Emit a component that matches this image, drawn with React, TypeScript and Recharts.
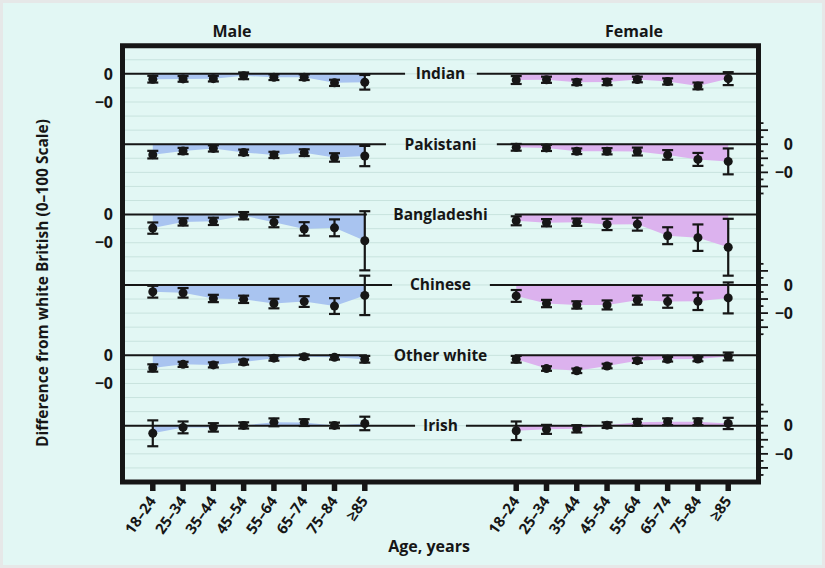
import React from 'react';
import {
  ComposedChart,
  Area,
  Line,
  ErrorBar,
  XAxis,
  YAxis,
  CartesianGrid,
  ReferenceLine,
  ReferenceArea,
  ReferenceDot,
} from 'recharts';

// ---------- categories ----------
const ageGroups = ['18–24', '25–34', '35–44', '45–54', '55–64', '65–74', '75–84', '≥85'];
const ethnicGroups = ['Indian', 'Pakistani', 'Bangladeshi', 'Chinese', 'Other white', 'Irish'];

// ---------- male values (difference from white British) and CI half-widths ----------
const indianMale = [-1.9, -1.8, -1.7, -0.7, -1.2, -1.2, -3.2, -3.0];
const indianMaleCI = [1.2, 1.0, 1.0, 1.2, 1.0, 1.0, 1.1, 2.6];
const pakistaniMale = [-3.7, -2.4, -1.5, -2.9, -3.8, -3.0, -4.7, -4.2];
const pakistaniMaleCI = [1.35, 1.1, 1.1, 1.0, 1.1, 1.2, 1.5, 3.6];
const bangladeshiMale = [-4.8, -2.6, -2.4, -0.4, -2.7, -5.1, -4.7, -9.3];
const bangladeshiMaleCI = [2.0, 1.3, 1.3, 1.3, 1.8, 2.4, 3.0, 10.5];
const chineseMale = [-2.4, -2.8, -4.8, -5.1, -6.6, -5.9, -7.5, -3.7];
const chineseMaleCI = [2.1, 1.7, 1.3, 1.3, 1.7, 1.9, 2.8, 7.0];
const otherWhiteMale = [-4.5, -3.2, -3.4, -2.4, -1.0, -0.5, -0.7, -1.4];
const otherWhiteMaleCI = [1.3, 0.9, 0.9, 0.9, 0.9, 0.8, 0.8, 1.2];
const irishMale = [-2.7, -0.6, -0.6, 0.1, 1.2, 1.1, 0.1, 0.8];
const irishMaleCI = [4.6, 2.1, 1.5, 1.1, 1.4, 1.2, 1.0, 2.4];

// ---------- female values and CI half-widths ----------
const indianFemale = [-2.2, -2.1, -3.0, -2.9, -2.0, -2.7, -4.3, -1.7];
const indianFemaleCI = [1.4, 1.1, 1.0, 1.1, 1.0, 1.1, 1.2, 2.3];
const pakistaniFemale = [-1.1, -1.3, -2.5, -2.5, -2.6, -3.8, -5.4, -6.1];
const pakistaniFemaleCI = [1.2, 1.1, 1.0, 1.1, 1.4, 1.7, 2.3, 4.6];
const bangladeshiFemale = [-2.2, -2.9, -2.7, -3.5, -3.4, -7.5, -8.2, -11.6];
const bangladeshiFemaleCI = [1.6, 1.3, 1.3, 2.0, 2.3, 3.0, 4.7, 10.1];
const chineseFemale = [-3.9, -6.6, -7.1, -7.1, -5.4, -5.9, -5.8, -4.6];
const chineseFemaleCI = [2.1, 1.3, 1.3, 1.6, 1.6, 2.2, 3.1, 5.5];
const otherWhiteFemale = [-1.4, -4.7, -5.5, -3.8, -1.9, -1.4, -1.3, -0.4];
const otherWhiteFemaleCI = [1.2, 0.8, 0.8, 0.8, 0.8, 0.8, 0.8, 1.4];
const irishFemale = [-1.8, -1.3, -1.1, 0.2, 1.2, 1.4, 1.4, 0.8];
const irishFemaleCI = [3.3, 1.6, 1.3, 1.0, 1.2, 1.2, 1.2, 2.0];

const maleSeries = [indianMale, pakistaniMale, bangladeshiMale, chineseMale, otherWhiteMale, irishMale];
const maleErrors = [indianMaleCI, pakistaniMaleCI, bangladeshiMaleCI, chineseMaleCI, otherWhiteMaleCI, irishMaleCI];
const femaleSeries = [indianFemale, pakistaniFemale, bangladeshiFemale, chineseFemale, otherWhiteFemale, irishFemale];
const femaleErrors = [indianFemaleCI, pakistaniFemaleCI, bangladeshiFemaleCI, chineseFemaleCI, otherWhiteFemaleCI, irishFemaleCI];

// ---------- tick labels ----------
const zeroLabel = '0';
const minusLabel = '−0';
const leftAxisGroups = [0, 2, 4];
const rightAxisGroups = [1, 3, 5];

// ---------- layout / style ----------
const CHART_W = 825;
const CHART_H = 568;
const FONT = '"Open Sans", "DejaVu Sans", sans-serif';
const INK = '#161616';
const MALE_FILL = '#a9c4f0';
const FEMALE_FILL = '#dcb2ee';
const BG = '#e2f7f4';
const FRAME_BG = '#e6e8e8';
const GRID = '#c8e3de';

const GROUP_STEP = 25;
const FIRST_BASE = -10;
const Y_MIN = -155;
const Y_MAX = 0;
const X_MIN = 0;
const X_MAX = 21;
const MALE_START = 1;
const FEMALE_START = 13;
const LABEL_X = 10.5;
const lineLeftEnd = [9.33, 8.7, 8.07, 8.9, 8.07, 9.66];
const lineRightStart = [11.7, 12.36, 12.95, 12.13, 12.95, 11.34];

const baseOf = (g: number) => FIRST_BASE - GROUP_STEP * g;

// ---------- data table ----------
type Row = Record<string, number>;
const rows: Row[] = [];
ageGroups.forEach((_, i) => {
  const r: Row = { x: MALE_START + i };
  maleSeries.forEach((s, g) => {
    r[`m${g}`] = baseOf(g) + s[i];
    r[`m${g}e`] = maleErrors[g][i];
  });
  rows.push(r);
});
ageGroups.forEach((_, i) => {
  const r: Row = { x: FEMALE_START + i };
  femaleSeries.forEach((s, g) => {
    r[`f${g}`] = baseOf(g) + s[i];
    r[`f${g}e`] = femaleErrors[g][i];
  });
  rows.push(r);
});

const xTicks = [
  ...ageGroups.map((_, i) => MALE_START + i),
  ...ageGroups.map((_, i) => FEMALE_START + i),
];

const gridValues: number[] = [];
for (let v = Y_MAX - 5; v > Y_MIN; v -= 5) gridValues.push(v);

const leftTicks = leftAxisGroups.flatMap((g) => [baseOf(g), baseOf(g) - 10]);
const rightOffsets = [7.5, 5, 2.5, 0, -2.5, -5, -7.5, -10, -12.5, -15, -17.5];
const rightTicks = rightAxisGroups.flatMap((g) => rightOffsets.map((d) => baseOf(g) + d));

const labelFor = (v: number) => {
  for (let g = 0; g < ethnicGroups.length; g++) {
    if (Math.abs(v - baseOf(g)) < 1e-6) return zeroLabel;
    if (Math.abs(v - (baseOf(g) - 10)) < 1e-6) return minusLabel;
  }
  return '';
};

const XTick = (props: any) => {
  const { x, y, payload } = props;
  const v = payload.value;
  const label = v >= FEMALE_START ? ageGroups[v - FEMALE_START] : ageGroups[v - MALE_START];
  return (
    <g>
      <line x1={x} x2={x} y1={y} y2={y + 9} stroke={INK} strokeWidth={5.5} />
      <text
        transform={`translate(${x + 4},${y + 19}) rotate(-55)`}
        textAnchor="end"
        fontSize={15}
        fontWeight={700}
        fontFamily={FONT}
        fill={INK}
      >
        {label}
      </text>
    </g>
  );
};

const LeftTick = (props: any) => {
  const { x, y, payload } = props;
  return (
    <text x={x - 9.5} y={y} dy="0.36em" textAnchor="end" fontSize={16} fontWeight={700} fontFamily={FONT} fill={INK}>
      {labelFor(payload.value)}
    </text>
  );
};

const RightTick = (props: any) => {
  const { x, y, payload } = props;
  const v = payload.value;
  const long = rightAxisGroups.some((g) => Math.abs(((v - baseOf(g)) % 5)) < 1e-6 && v - baseOf(g) <= 7.5 && v - baseOf(g) >= -17.5);
  return (
    <g>
      <line x1={x} x2={x + (long ? 9.5 : 5)} y1={y} y2={y} stroke={INK} strokeWidth={1.8} />
      <text x={x + 34.5} y={y} dy="0.36em" textAnchor="end" fontSize={16} fontWeight={700} fontFamily={FONT} fill={INK}>
        {labelFor(v)}
      </text>
    </g>
  );
};

const Overlay = ({ text, cx, cy, size, rotate }: { text: string; cx: number; cy: number; size: number; rotate?: boolean }) => (
  <div
    style={{
      position: 'absolute',
      left: cx,
      top: cy,
      transform: `translate(-50%, -50%)${rotate ? ' rotate(-90deg)' : ''}`,
      fontFamily: FONT,
      fontWeight: 700,
      fontSize: size,
      color: INK,
      whiteSpace: 'nowrap',
      lineHeight: 1,
    }}
  >
    {text}
  </div>
);

export default function App() {
  return (
    <div style={{ position: 'absolute', left: 0, top: 0, width: CHART_W, height: CHART_H, background: FRAME_BG }}>
      <div style={{ position: 'absolute', left: 3, top: 3, width: CHART_W - 6, height: CHART_H - 6, background: BG }} />
      <div style={{ position: 'absolute', left: 0, top: 0 }}>
        <ComposedChart
          width={CHART_W}
          height={CHART_H}
          data={rows}
          margin={{ top: 45.7, left: 82.5, right: 26.5, bottom: 26 }}
        >
          <CartesianGrid vertical={false} horizontalValues={gridValues} stroke={GRID} strokeWidth={1} />
          <XAxis
            type="number"
            dataKey="x"
            domain={[X_MIN, X_MAX]}
            allowDataOverflow
            ticks={xTicks}
            interval={0}
            height={60}
            axisLine={false}
            tickLine={false}
            tickSize={0}
            tickMargin={0}
            tick={XTick}
          />
          <YAxis
            type="number"
            domain={[Y_MIN, Y_MAX]}
            allowDataOverflow
            ticks={leftTicks}
            interval={0}
            width={40}
            axisLine={false}
            tickLine={false}
            tickSize={0}
            tickMargin={0}
            tick={LeftTick}
          />
          <YAxis
            yAxisId="right"
            orientation="right"
            type="number"
            domain={[Y_MIN, Y_MAX]}
            allowDataOverflow
            ticks={rightTicks}
            interval={0}
            width={40}
            axisLine={false}
            tickLine={false}
            tickSize={0}
            tickMargin={0}
            tick={RightTick}
          />
          {ethnicGroups.map((_, g) => (
            <Area
              key={`am${g}`}
              type="linear"
              dataKey={`m${g}`}
              baseValue={baseOf(g)}
              stroke="none"
              fill={MALE_FILL}
              fillOpacity={1}
              dot={false}
              activeDot={false}
              isAnimationActive={false}
            />
          ))}
          {ethnicGroups.map((_, g) => (
            <Area
              key={`af${g}`}
              type="linear"
              dataKey={`f${g}`}
              baseValue={baseOf(g)}
              stroke="none"
              fill={FEMALE_FILL}
              fillOpacity={1}
              dot={false}
              activeDot={false}
              isAnimationActive={false}
            />
          ))}
          {ethnicGroups.map((_, g) => (
            <ReferenceLine
              key={`bl${g}`}
              segment={[{ x: X_MIN, y: baseOf(g) }, { x: lineLeftEnd[g], y: baseOf(g) }]}
              stroke={INK}
              strokeWidth={2}
            />
          ))}
          {ethnicGroups.map((_, g) => (
            <ReferenceLine
              key={`br${g}`}
              segment={[{ x: lineRightStart[g], y: baseOf(g) }, { x: X_MAX, y: baseOf(g) }]}
              stroke={INK}
              strokeWidth={2}
            />
          ))}
          {ethnicGroups.map((_, g) => (
            <Line
              key={`lm${g}`}
              type="linear"
              dataKey={`m${g}`}
              stroke="none"
              dot={{ r: 4.5, fill: INK, stroke: 'none' }}
              activeDot={false}
              isAnimationActive={false}
            >
              <ErrorBar dataKey={`m${g}e`} width={5.5} strokeWidth={2.2} stroke={INK} direction="y" />
            </Line>
          ))}
          {ethnicGroups.map((_, g) => (
            <Line
              key={`lf${g}`}
              type="linear"
              dataKey={`f${g}`}
              stroke="none"
              dot={{ r: 4.5, fill: INK, stroke: 'none' }}
              activeDot={false}
              isAnimationActive={false}
            >
              <ErrorBar dataKey={`f${g}e`} width={5.5} strokeWidth={2.2} stroke={INK} direction="y" />
            </Line>
          ))}
          {ethnicGroups.map((name, g) => (
            <ReferenceDot
              key={`lbl${g}`}
              x={LABEL_X}
              y={baseOf(g)}
              r={0}
              fill="none"
              stroke="none"
              ifOverflow="visible"
              label={{ value: name, position: 'center', fill: INK, fontSize: 15.5, fontWeight: 700, fontFamily: FONT }}
            />
          ))}
          <ReferenceArea
            x1={X_MIN}
            x2={X_MAX}
            y1={Y_MIN}
            y2={Y_MAX}
            fill="none"
            fillOpacity={0}
            stroke={INK}
            strokeWidth={5}
            ifOverflow="visible"
          />
        </ComposedChart>
      </div>
      <Overlay text="Male" cx={232} cy={31} size={16} />
      <Overlay text="Female" cx={634} cy={31} size={16} />
      <Overlay text="Age, years" cx={429} cy={546} size={16} />
      <Overlay text="Difference from white British (0–100 Scale)" cx={43} cy={283} size={15.5} rotate />
    </div>
  );
}
